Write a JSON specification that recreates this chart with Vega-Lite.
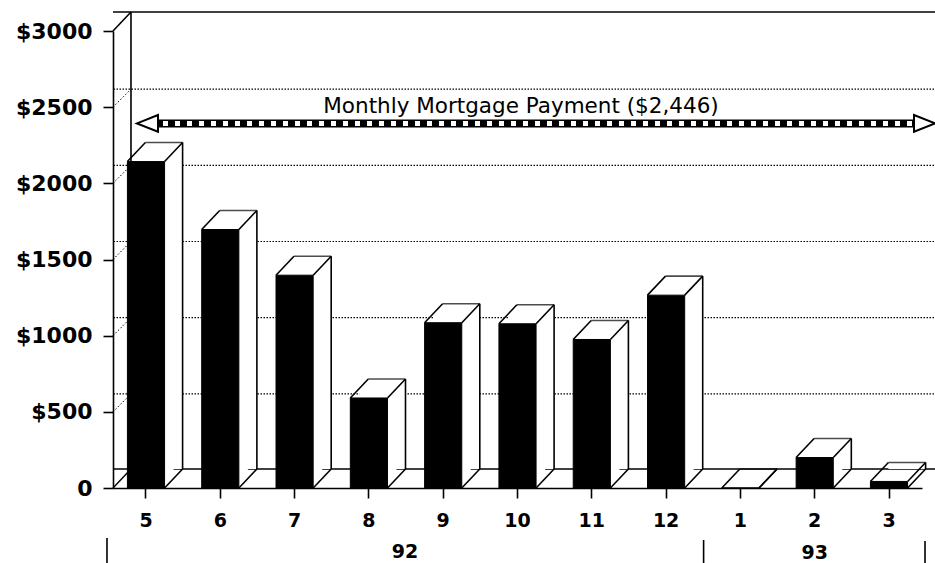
{
  "$schema": "https://vega.github.io/schema/vega-lite/v6.json",
  "width": 809,
  "height": 457,
  "autosize": {"type": "none"},
  "padding": {"left": 113, "top": 31, "right": 13, "bottom": 75},
  "background": "white",
  "config": {
    "view": {"stroke": null},
    "font": "DejaVu Sans",
    "axis": {"titleOpacity": 0, "grid": false, "labelColor": "black", "tickColor": "black", "domainColor": "black", "tickSize": 10, "domainWidth": 1.6, "tickWidth": 1.6, "labelFontWeight": "bold"},
    "axisX": {"labelAngle": 0, "labelFontSize": 19, "labelPadding": 13},
    "axisY": {"labelFontSize": 22, "labelPadding": 11}
  },
  "datasets": {
    "bars": [
      {"m": "5", "v": 2143},
      {"m": "6", "v": 1697},
      {"m": "7", "v": 1397},
      {"m": "8", "v": 591},
      {"m": "9", "v": 1085},
      {"m": "10", "v": 1078},
      {"m": "11", "v": 975},
      {"m": "12", "v": 1266},
      {"m": "1", "v": 0},
      {"m": "2", "v": 200},
      {"m": "3", "v": 43}
    ],
    "grid": [{"g": 500}, {"g": 1000}, {"g": 1500}, {"g": 2000}, {"g": 2500}],
    "one": [{}]
  },
  "layer": [
    {
      "data": {"name": "grid"},
      "mark": {"type": "rule", "color": "black", "strokeWidth": 1.2, "strokeDash": [1.5, 1.5], "xOffset": 18, "x2Offset": 18, "yOffset": -18},
      "encoding": {
        "y": {"field": "g", "type": "quantitative", "title": null, "scale": {"domain": [0, 3000], "nice": false},
              "axis": {"values": [0, 500, 1000, 1500, 2000, 2500, 3000], "labelExpr": "datum.value == 0 ? '0' : '$' + datum.value"}}
      }
    },
    {
      "data": {"name": "grid"},
      "mark": {"type": "rule", "color": "black", "strokeWidth": 1, "strokeDash": [1.5, 2], "xOffset": -33, "x2Offset": -15, "y2Offset": -18},
      "encoding": {
        "x": {"datum": "5", "type": "nominal", "title": null, "scale": {"type": "band", "domain": ["5", "6", "7", "8", "9", "10", "11", "12", "1", "2", "3"], "paddingInner": 0.5, "paddingOuter": 0.194}},
        "x2": {"datum": "5"},
        "y": {"field": "g", "type": "quantitative", "title": null},
        "y2": {"field": "g"}
      }
    },
    {
      "data": {"name": "one"},
      "mark": {"type": "rule", "color": "black", "strokeWidth": 1.6, "xOffset": 18, "x2Offset": 18, "yOffset": -19},
      "encoding": {"y": {"datum": 3000, "type": "quantitative", "title": null}}
    },
    {
      "data": {"name": "one"},
      "mark": {"type": "rule", "color": "black", "strokeWidth": 1.6, "xOffset": -33, "x2Offset": -15, "y2Offset": -19},
      "encoding": {
        "x": {"datum": "5", "type": "nominal", "title": null},
        "x2": {"datum": "5"},
        "y": {"datum": 3000, "type": "quantitative", "title": null},
        "y2": {"datum": 3000}
      }
    },
    {
      "data": {"name": "one"},
      "mark": {"type": "rule", "color": "black", "strokeWidth": 1.6, "xOffset": -15, "yOffset": -19, "y2Offset": -19},
      "encoding": {
        "x": {"datum": "5", "type": "nominal", "title": null},
        "y": {"datum": 3000, "type": "quantitative", "title": null},
        "y2": {"datum": 0}
      }
    },
    {
      "data": {"name": "one"},
      "mark": {"type": "rule", "color": "black", "strokeWidth": 1.4, "xOffset": 18, "x2Offset": 18, "yOffset": -19},
      "encoding": {"y": {"datum": 0, "type": "quantitative", "title": null}}
    },
    {
      "data": {"name": "one"},
      "mark": {"type": "rule", "color": "black", "strokeWidth": 1.4, "xOffset": -33, "x2Offset": -15, "y2Offset": -19},
      "encoding": {
        "x": {"datum": "5", "type": "nominal", "title": null},
        "x2": {"datum": "5"},
        "y": {"datum": 0, "type": "quantitative", "title": null},
        "y2": {"datum": 0}
      }
    },
    {
      "data": {"name": "one"},
      "mark": {"type": "rule", "color": "black", "strokeWidth": 8, "xOffset": 10, "x2Offset": 30, "yOffset": 8, "y2Offset": 8},
      "encoding": {
        "x": {"datum": "5", "type": "nominal", "title": null},
        "x2": {"datum": "3"},
        "y": {"datum": 2446, "type": "quantitative", "title": null},
        "y2": {"datum": 2446}
      }
    },
    {
      "data": {"name": "one"},
      "mark": {"type": "rule", "color": "white", "strokeWidth": 5, "xOffset": 10, "x2Offset": 30, "yOffset": 8, "y2Offset": 8},
      "encoding": {
        "x": {"datum": "5", "type": "nominal", "title": null},
        "x2": {"datum": "3"},
        "y": {"datum": 2446, "type": "quantitative", "title": null},
        "y2": {"datum": 2446}
      }
    },
    {
      "data": {"name": "one"},
      "mark": {"type": "rule", "color": "black", "strokeWidth": 5, "strokeDash": [7, 5], "xOffset": 10, "x2Offset": 30, "yOffset": 8, "y2Offset": 8},
      "encoding": {
        "x": {"datum": "5", "type": "nominal", "title": null},
        "x2": {"datum": "3"},
        "y": {"datum": 2446, "type": "quantitative", "title": null},
        "y2": {"datum": 2446}
      }
    },
    {
      "data": {"name": "one"},
      "mark": {"type": "point", "shape": "M 1 -0.8 L -1 0 L 1 0.8 Z", "size": 441, "filled": true, "fill": "white", "stroke": "black", "strokeWidth": 2, "opacity": 1, "xOffset": 1.5, "yOffset": 8},
      "encoding": {
        "x": {"datum": "5", "type": "nominal", "title": null},
        "y": {"datum": 2446, "type": "quantitative", "title": null}
      }
    },
    {
      "data": {"name": "one"},
      "mark": {"type": "point", "shape": "M -1 -0.8 L 1 0 L -1 0.8 Z", "size": 441, "filled": true, "fill": "white", "stroke": "black", "strokeWidth": 2, "opacity": 1, "xOffset": 35.5, "yOffset": 8},
      "encoding": {
        "x": {"datum": "3", "type": "nominal", "title": null},
        "y": {"datum": 2446, "type": "quantitative", "title": null}
      }
    },
    {
      "data": {"name": "one"},
      "mark": {"type": "text", "text": "Monthly Mortgage Payment ($2,446)", "fontSize": 21.5, "color": "black", "align": "center", "baseline": "alphabetic", "xOffset": 3.5, "yOffset": -2},
      "encoding": {
        "x": {"datum": "10", "type": "nominal", "title": null},
        "y": {"datum": 2446, "type": "quantitative", "title": null}
      }
    },
    {
      "data": {"name": "bars"},
      "mark": {"type": "bar", "fill": "white", "xOffset": 9, "yOffset": -9.5, "y2Offset": -9.5},
      "encoding": {
        "x": {"field": "m", "type": "nominal", "title": null},
        "y": {"field": "v", "type": "quantitative", "title": null}
      }
    },
    {
      "data": {"name": "bars"},
      "mark": {"type": "bar", "fill": "white", "xOffset": 18, "yOffset": -19, "y2Offset": -19},
      "encoding": {
        "x": {"field": "m", "type": "nominal", "title": null},
        "y": {"field": "v", "type": "quantitative", "title": null}
      }
    },
    {
      "data": {"name": "bars"},
      "mark": {"type": "tick", "color": "black", "thickness": 1.6, "size": 37.2, "xOffset": 18, "yOffset": -19},
      "encoding": {
        "x": {"field": "m", "type": "nominal", "title": null},
        "y": {"field": "v", "type": "quantitative", "title": null}
      }
    },
    {
      "data": {"name": "bars"},
      "mark": {"type": "rule", "color": "black", "strokeWidth": 1.6, "xOffset": 36.6, "yOffset": -19, "y2Offset": -19},
      "encoding": {
        "x": {"field": "m", "type": "nominal", "title": null},
        "y": {"field": "v", "type": "quantitative", "title": null},
        "y2": {"datum": 0}
      }
    },
    {
      "data": {"name": "bars"},
      "mark": {"type": "rule", "color": "black", "strokeWidth": 1.6, "xOffset": -18.6, "x2Offset": -0.6, "y2Offset": -19},
      "encoding": {
        "x": {"field": "m", "type": "nominal", "title": null},
        "x2": {"field": "m"},
        "y": {"field": "v", "type": "quantitative", "title": null},
        "y2": {"field": "v"}
      }
    },
    {
      "data": {"name": "bars"},
      "mark": {"type": "rule", "color": "black", "strokeWidth": 1.6, "xOffset": 18.6, "x2Offset": 36.6, "y2Offset": -19},
      "encoding": {
        "x": {"field": "m", "type": "nominal", "title": null},
        "x2": {"field": "m"},
        "y": {"field": "v", "type": "quantitative", "title": null},
        "y2": {"field": "v"}
      }
    },
    {
      "data": {"name": "bars"},
      "mark": {"type": "rule", "color": "black", "strokeWidth": 1.6, "xOffset": 18.6, "x2Offset": 36.6, "y2Offset": -19},
      "encoding": {
        "x": {"field": "m", "type": "nominal", "title": null},
        "x2": {"field": "m"},
        "y": {"datum": 0, "type": "quantitative", "title": null},
        "y2": {"datum": 0}
      }
    },
    {
      "data": {"name": "bars"},
      "mark": {"type": "bar", "fill": "black", "stroke": "black", "strokeWidth": 1},
      "encoding": {
        "x": {"field": "m", "type": "nominal", "title": null},
        "y": {"field": "v", "type": "quantitative", "title": null}
      }
    },
    {
      "data": {"name": "one"},
      "mark": {"type": "rule", "color": "black", "strokeWidth": 1.6, "xOffset": -39, "yOffset": 50, "y2Offset": 76},
      "encoding": {"x": {"datum": "5", "type": "nominal", "title": null}, "y": {"datum": 0, "type": "quantitative", "title": null}, "y2": {"datum": 0}}
    },
    {
      "data": {"name": "one"},
      "mark": {"type": "rule", "color": "black", "strokeWidth": 1.6, "xOffset": 37.5, "yOffset": 52, "y2Offset": 78},
      "encoding": {"x": {"datum": "12", "type": "nominal", "title": null}, "y": {"datum": 0, "type": "quantitative", "title": null}, "y2": {"datum": 0}}
    },
    {
      "data": {"name": "one"},
      "mark": {"type": "rule", "color": "black", "strokeWidth": 1.6, "xOffset": 36, "yOffset": 53, "y2Offset": 78},
      "encoding": {"x": {"datum": "3", "type": "nominal", "title": null}, "y": {"datum": 0, "type": "quantitative", "title": null}, "y2": {"datum": 0}}
    },
    {
      "data": {"name": "one"},
      "mark": {"type": "text", "text": "92", "fontSize": 19, "fontWeight": "bold", "color": "black", "align": "center", "baseline": "middle", "xOffset": 36, "yOffset": 63.5},
      "encoding": {"x": {"datum": "8", "type": "nominal", "title": null}, "y": {"datum": 0, "type": "quantitative", "title": null}}
    },
    {
      "data": {"name": "one"},
      "mark": {"type": "text", "text": "93", "fontSize": 19, "fontWeight": "bold", "color": "black", "align": "center", "baseline": "middle", "xOffset": 0, "yOffset": 64.5},
      "encoding": {"x": {"datum": "2", "type": "nominal", "title": null}, "y": {"datum": 0, "type": "quantitative", "title": null}}
    }
  ]
}
